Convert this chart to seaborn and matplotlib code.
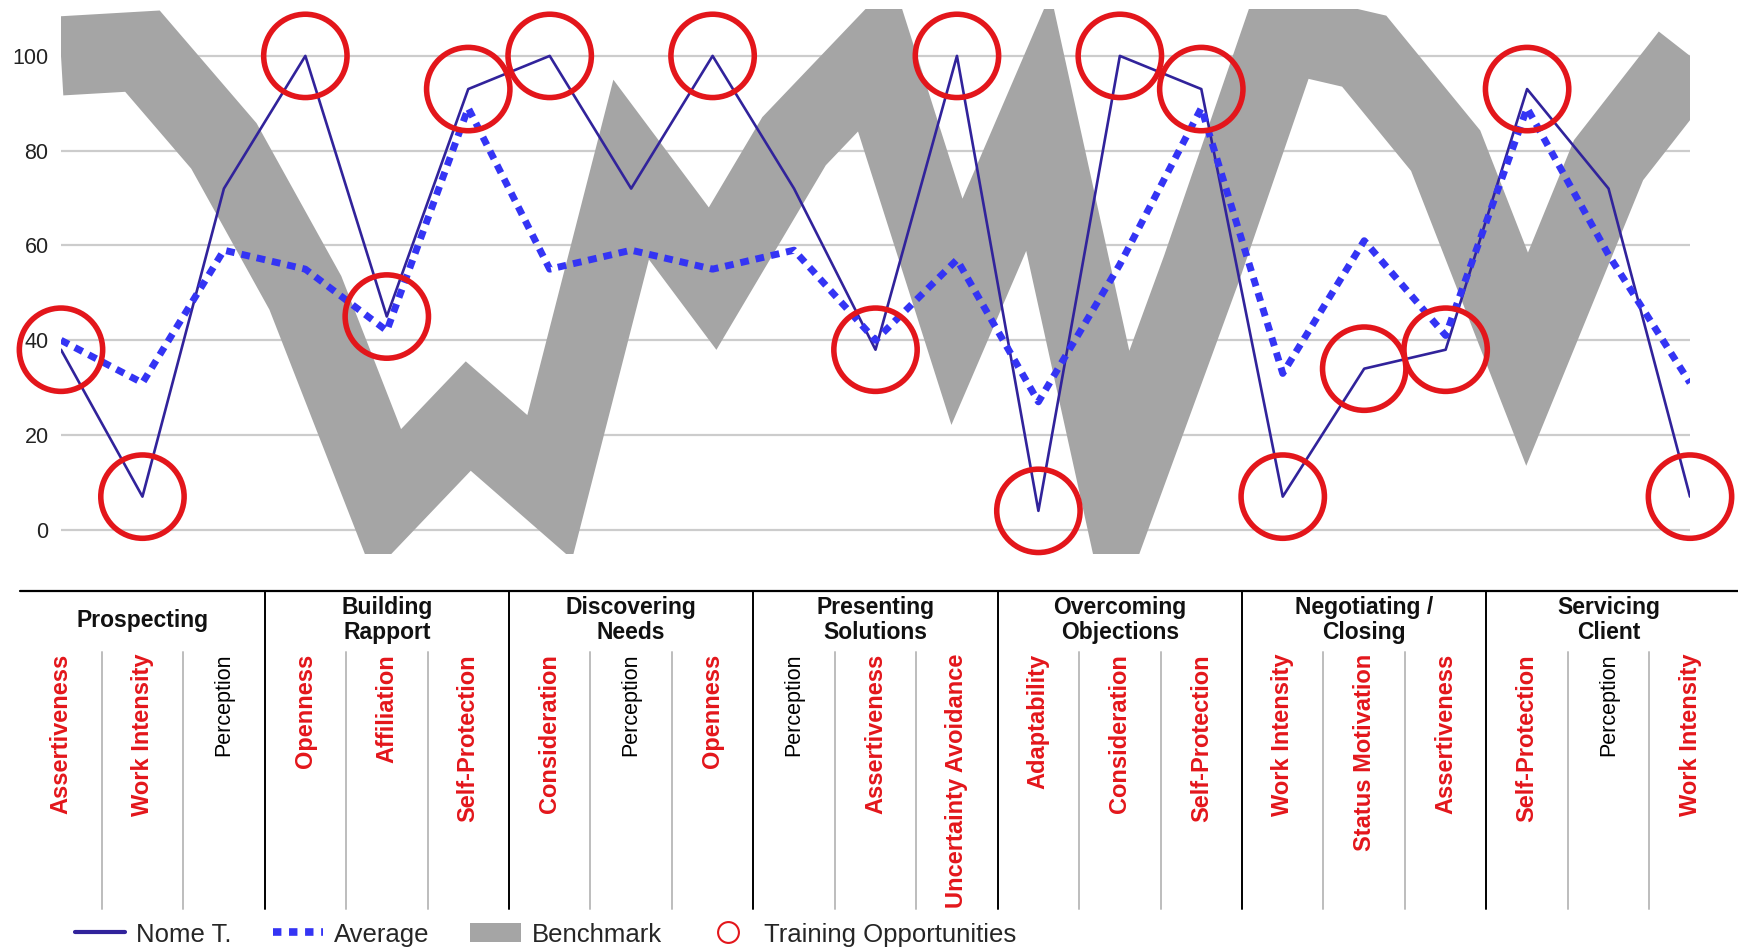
import numpy as np
import pandas as pd
import seaborn as sns
import matplotlib.pyplot as plt
from matplotlib.lines import Line2D
from matplotlib.patches import Patch

# ---- data -------------------------------------------------------------
stages = ["Prospecting", "Building\nRapport", "Discovering\nNeeds",
          "Presenting\nSolutions", "Overcoming\nObjections",
          "Negotiating /\nClosing", "Servicing\nClient"]
traits = ["Assertiveness", "Work Intensity", "Perception",
          "Openness", "Affiliation", "Self-Protection",
          "Consideration", "Perception", "Openness",
          "Perception", "Assertiveness", "Uncertainty Avoidance",
          "Adaptability", "Consideration", "Self-Protection",
          "Work Intensity", "Status Motivation", "Assertiveness",
          "Self-Protection", "Perception", "Work Intensity"]
nome_t = [38, 7, 72, 100, 45, 93, 100, 72, 100, 72, 38, 100, 4, 100, 93,
          7, 34, 38, 93, 72, 7]
average = [40, 31, 59, 55, 42, 89, 55, 59, 55, 59, 40, 57, 27, 56, 89,
           33, 61, 41, 89, 58, 31]
benchmark = [100, 101, 81, 50, 6, 24, 9, 76, 53, 82, 100, 46, 86, 8, 55,
             105, 101, 80, 36, 78, 100]
training = [True, True, False, True, True, True, True, False, True, False,
            True, True, True, True, True, True, True, True, True, False, True]
y_ticks = [0, 20, 40, 60, 80, 100]

# ---- style ------------------------------------------------------------
NAVY = "#31239b"
BLUE = "#3434f4"
GRAY = "#a5a5a5"
RED = "#e3161b"

sns.set_theme(style="white")
plt.rcParams["font.family"] = ["Liberation Sans", "DejaVu Sans"]

W, H = 1738, 951
fig = plt.figure(figsize=(W / 100, H / 100), dpi=100)

# main plotting area (pixel geometry of the chart region)
left_px, right_px, top_px, bot_px = 61, 1690, 8.5, 553.5
ax = fig.add_axes([left_px / W, 1 - bot_px / H,
                   (right_px - left_px) / W, (bot_px - top_px) / H])

n = len(traits)
df = pd.DataFrame({"pos": np.arange(n), "trait": traits,
                   "Nome T.": nome_t, "Average": average,
                   "Benchmark": benchmark, "training": training})

sns.lineplot(data=df, x="pos", y="Benchmark", ax=ax, color=GRAY,
             linewidth=57, solid_joinstyle="miter", solid_capstyle="butt",
             legend=False, zorder=2)
sns.lineplot(data=df, x="pos", y="Nome T.", ax=ax, color=NAVY,
             linewidth=1.9, legend=False, zorder=3)
sns.lineplot(data=df, x="pos", y="Average", ax=ax, color=BLUE,
             linewidth=5, linestyle=(0, (1.25, 1.0)), legend=False, zorder=4)
sns.scatterplot(data=df[df["training"]], x="pos", y="Nome T.", ax=ax,
                s=60 ** 2, facecolor="none", edgecolor=RED, linewidth=4,
                legend=False, zorder=5, clip_on=False)

ax.set_xlim(0, n - 1)
ax.set_ylim(-5, 110)
ax.set_yticks(y_ticks)
ax.set_yticklabels([str(v) for v in y_ticks], fontsize=15.5, color="#222222")
ax.set_xticks([])
ax.set_xlabel("")
ax.set_ylabel("")
ax.yaxis.grid(True, color="#cccccc", linewidth=1.6, zorder=0)
ax.set_axisbelow(True)
ax.tick_params(axis="y", length=0, pad=9)
for sp in ax.spines.values():
    sp.set_visible(False)

# ---- category table under the chart --------------------------------------
tab_top, tab_bot = 591, 909
tab = fig.add_axes([left_px / W, 1 - tab_bot / H,
                    (right_px - left_px) / W, (tab_bot - tab_top) / H])
tab.set_xlim(0, n - 1)
tab.set_ylim(tab_bot - tab_top, 0)
tab.axis("off")

tab.plot([-0.5, n - 1 + 0.6], [0, 0], color="black", lw=1.6, clip_on=False)
group_size = 3
for g, name in enumerate(stages):
    centre = g * group_size + 1
    tab.text(centre, 29, name, ha="center", va="center", fontsize=16.5,
             fontweight="bold", color="#111111", linespacing=1.15)
    if g < len(stages) - 1:
        xs = g * group_size + 2.5
        tab.plot([xs, xs], [0, tab_bot - tab_top], color="black", lw=1.4,
                 clip_on=False)
    for k in (0.5, 1.5):
        xs = g * group_size + k
        tab.plot([xs, xs], [61, tab_bot - tab_top], color="#bdbdbd", lw=1.4,
                 clip_on=False)

for i, (name, flag) in enumerate(zip(traits, training)):
    tab.text(i, 63, name, rotation=90, ha="center", va="top",
             fontsize=17 if flag else 15.5,
             color=RED if flag else "black",
             fontweight="bold" if flag else "normal")

# ---- legend -----------------------------------------------------------
handles = [
    Line2D([], [], color=NAVY, lw=3),
    Line2D([], [], color=BLUE, lw=5.5, linestyle=(0, (1.1, 1.0))),
    Patch(facecolor=GRAY, edgecolor="none"),
    Line2D([], [], linestyle="none", marker="o", markersize=15,
           markerfacecolor="none", markeredgecolor=RED, markeredgewidth=1.5),
]
labels = ["Nome T.", "Average", "Benchmark", "Training Opportunities"]
fig.legend(handles, labels, loc="lower left", bbox_to_anchor=(0.0357, -0.009),
           ncol=4, frameon=False, fontsize=18.5, handlelength=1.95,
           handleheight=0.78, handletextpad=0.43, columnspacing=1.6,
           borderpad=0.0)

fig.savefig("out.png", dpi=100, facecolor="white")
